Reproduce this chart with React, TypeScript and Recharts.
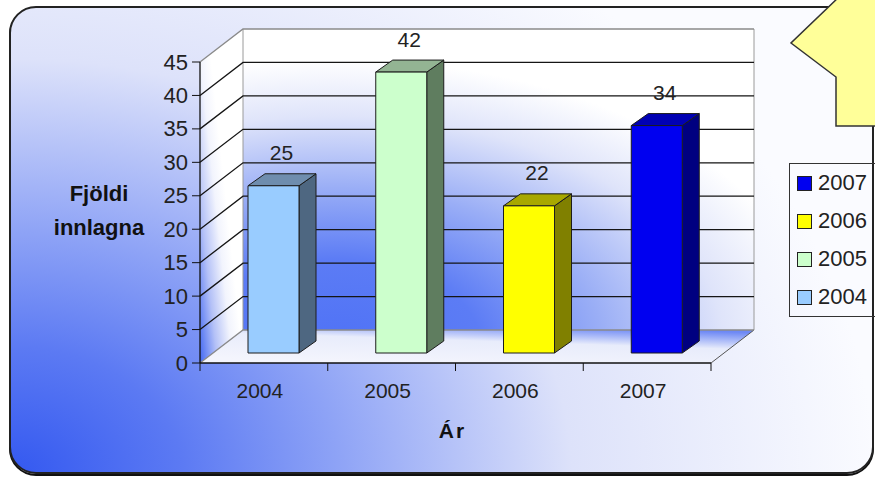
import React from "react";
import { BarChart, Bar, XAxis, YAxis, ReferenceArea, ReferenceLine, LabelList, Label } from "recharts";

const years = ["2004", "2005", "2006", "2007"];
const admissions = [25, 42, 22, 34];
const yTicks = [0, 5, 10, 15, 20, 25, 30, 35, 40, 45];
const legendYears = ["2007", "2006", "2005", "2004"];

const frontColors = ["#99CCFF", "#CCFFCC", "#FFFF00", "#0000F0"];
const sideColors = ["#4E6781", "#5F7D5F", "#808000", "#000080"];
const topColors = ["#6F8DAE", "#93B493", "#A8A800", "#0000B4"];

const data = years.map((year, i) => ({ year, value: admissions[i] }));

const FONT = '"Liberation Sans", Arial, sans-serif';
const DX = 43; // depth of the box
const DY = 33;
const BAR_OFF = 10; // bars sit a bit inside the box
const BAR_DX = 17;
const BAR_DY = 12;

function Walls(props: any) {
  const { x, y, width, height } = props;
  const b = y + height;
  const r = x + width;
  return (
    <g>
      <defs>
        <radialGradient id="backWall" cx="0.18" cy="1.05" r="0.95">
          <stop offset="0" stopColor="#4f72f6" />
          <stop offset="0.3" stopColor="#5c7cf5" />
          <stop offset="0.55" stopColor="#9aaef6" />
          <stop offset="0.8" stopColor="#dfe4fa" />
          <stop offset="1" stopColor="#ffffff" />
        </radialGradient>
        <linearGradient id="sideWall" x1="0" y1="1" x2="0.6" y2="0.5">
          <stop offset="0" stopColor="#4268f3" />
          <stop offset="0.4" stopColor="#b4c1f7" />
          <stop offset="0.75" stopColor="#f2f4fd" />
          <stop offset="1" stopColor="#ffffff" />
        </linearGradient>
        <linearGradient id="floor" x1="0.3" y1="1" x2="0.85" y2="0">
          <stop offset="0" stopColor="#f4f5fd" />
          <stop offset="0.6" stopColor="#e8ecfb" />
          <stop offset="1" stopColor="#6d88f5" />
        </linearGradient>
      </defs>
      <polygon points={`${x},${y} ${x + DX},${y - DY} ${x + DX},${b - DY} ${x},${b}`} fill="url(#sideWall)" />
      <rect x={x + DX} y={y - DY} width={width} height={height} fill="url(#backWall)" />
      <polygon points={`${x},${b} ${r},${b} ${r + DX},${b - DY} ${x + DX},${b - DY}`} fill="url(#floor)" />
      <line x1={x + DX} y1={y - DY} x2={x + DX} y2={b - DY} stroke="#9a9a9a" />
      <line x1={r + DX} y1={y - DY} x2={r + DX} y2={b - DY} stroke="#9a9a9a" />
      <line x1={r} y1={b} x2={r + DX} y2={b - DY} stroke="#555" />
    </g>
  );
}

function WallGrid(props: any) {
  const { x1, y1, x2, stroke } = props;
  return (
    <polyline
      points={`${x1},${y1} ${x1 + DX},${y1 - DY} ${x2 + DX},${y1 - DY}`}
      fill="none"
      stroke={stroke}
      strokeWidth={1.3}
    />
  );
}

function Box(props: any) {
  const { x, y, width, height, index } = props;
  if (height == null || width == null) return null;
  const fx = x + BAR_OFF;
  const fy = y - BAR_OFF;
  const r = fx + width;
  const b = fy + height;
  return (
    <g stroke="#1c1c1c" strokeWidth={1} strokeLinejoin="round">
      <polygon
        points={`${r},${fy} ${r + BAR_DX},${fy - BAR_DY} ${r + BAR_DX},${b - BAR_DY} ${r},${b}`}
        fill={sideColors[index]}
      />
      <polygon
        points={`${fx},${fy} ${fx + BAR_DX},${fy - BAR_DY} ${r + BAR_DX},${fy - BAR_DY} ${r},${fy}`}
        fill={topColors[index]}
      />
      <rect x={fx} y={fy} width={width} height={height} fill={frontColors[index]} />
    </g>
  );
}

function ValueLabel(props: any) {
  const vb = props.viewBox || props;
  const { x, y, width } = vb;
  return (
    <text
      x={x + width / 2 + BAR_OFF + 8}
      y={y - BAR_OFF - 33}
      textAnchor="middle"
      dominantBaseline="central"
      fontSize={21}
      fill="#222"
      fontFamily={FONT}
    >
      {props.value}
    </text>
  );
}

function YTick(props: any) {
  const { x, y, payload } = props;
  return (
    <text x={x} y={y} textAnchor="end" dominantBaseline="central" fontSize={22} fill="#222" fontFamily={FONT}>
      {payload.value}
    </text>
  );
}

function XTick(props: any) {
  const { x, y, payload, index } = props;
  const half = payload.offset ? payload.offset : 63.9;
  const last = index === years.length - 1;
  return (
    <g>
      <line x1={x - half} y1={y} x2={x - half} y2={y + 8} stroke="#111" />
      {last && <line x1={x + half} y1={y} x2={x + half} y2={y + 8} stroke="#111" />}
      <text x={x - 4} y={y + 27} textAnchor="middle" dominantBaseline="central" fontSize={21} fill="#222" fontFamily={FONT}>
        {payload.value}
      </text>
    </g>
  );
}

export default function App() {
  return (
    <div style={{ position: "absolute", left: 0, top: 0, width: 875, height: 479, overflow: "hidden", background: "#fff" }}>
      <svg width={875} height={479} style={{ position: "absolute", left: 0, top: 0 }}>
        <defs>
          <radialGradient
            id="frameBg"
            gradientUnits="userSpaceOnUse"
            cx="10"
            cy="475"
            r="640"
            gradientTransform="translate(10,475) scale(1.35,1) translate(-10,-475)"
          >
            <stop offset="0" stopColor="#3358f0" />
            <stop offset="0.2" stopColor="#5c7af3" />
            <stop offset="0.38" stopColor="#8ea3f6" />
            <stop offset="0.65" stopColor="#dde2fa" />
            <stop offset="1" stopColor="#fafbff" />
          </radialGradient>
        </defs>
        <rect x={10} y={9} width={863} height={466} rx={26} fill="none" stroke="#111" strokeWidth={2} />
        <rect x={10} y={7} width={863} height={466} rx={26} fill="url(#frameBg)" stroke="#222" strokeWidth={2} />
      </svg>

      <div style={{ position: "absolute", left: 0, top: 0 }}>
        <BarChart width={875} height={479} data={data} margin={{ top: 62, right: 164, bottom: 36, left: 70 }}>
          <ReferenceArea y1={0} y2={45} shape={Walls} ifOverflow="visible" zIndex={-200} />
          {yTicks.map((v) => (
            <ReferenceLine
              key={v}
              y={v}
              shape={WallGrid}
              stroke={v === 0 || v === 45 ? "#8a8a8a" : "#151515"}
              ifOverflow="visible"
              zIndex={-150}
            />
          ))}
          <XAxis
            dataKey="year"
            height={80}
            tickLine={false}
            tickSize={0}
            tickMargin={0}
            interval={0}
            tick={XTick}
            axisLine={{ stroke: "#111", strokeWidth: 1.3 }}
          >
            <Label
              content={(p: any) => {
                const vb = p.viewBox;
                return (
                  <text
                    x={vb.x + vb.width / 2 - 3}
                    y={vb.y + 67}
                    textAnchor="middle"
                    dominantBaseline="central"
                    fontSize={21}
                    fontWeight="bold"
                    fill="#111"
                    fontFamily={FONT}
                    letterSpacing={2}
                  >
                    Ár
                  </text>
                );
              }}
            />
          </XAxis>
          <YAxis
            type="number"
            domain={[0, 45]}
            ticks={yTicks}
            interval={0}
            width={130}
            tickSize={8}
            tickMargin={4}
            tick={YTick}
            axisLine={{ stroke: "#111", strokeWidth: 1.3 }}
            tickLine={{ stroke: "#111" }}
          >
            <Label
              content={(p: any) => {
                const vb = p.viewBox;
                const cx = vb.x + 29;
                const cy = vb.y + vb.height / 2 - 2.5;
                return (
                  <text textAnchor="middle" dominantBaseline="central" fontSize={22} fontWeight="bold" fill="#111" fontFamily={FONT}>
                    <tspan x={cx} y={cy - 17}>Fjöldi</tspan>
                    <tspan x={cx} y={cy + 17}>innlagna</tspan>
                  </text>
                );
              }}
            />
          </YAxis>
          <Bar dataKey="value" barSize={51} shape={Box} isAnimationActive={false}>
            <LabelList dataKey="value" content={ValueLabel} />
          </Bar>
        </BarChart>
      </div>

      <div
        style={{
          position: "absolute",
          left: 789,
          top: 163,
          width: 100,
          height: 154,
          border: "1.5px solid #333",
          boxSizing: "border-box",
          fontFamily: FONT,
        }}
      >
        {legendYears.map((yr, i) => (
          <div
            key={yr}
            style={{ position: "absolute", left: 7, top: 7 + i * 38, height: 24, display: "flex", alignItems: "center" }}
          >
            <span
              style={{
                display: "inline-block",
                width: 13,
                height: 13,
                background: frontColors[years.indexOf(yr)],
                border: "1px solid #222",
              }}
            />
            <span style={{ marginLeft: 6, fontSize: 22, color: "#222", lineHeight: "24px" }}>{yr}</span>
          </div>
        ))}
      </div>

      <svg width={875} height={479} style={{ position: "absolute", left: 0, top: 0, pointerEvents: "none" }}>
        <polygon
          points="841,-5 791,43 836,77 836,126 880,126 880,-5"
          fill="#FFFF99"
          stroke="#333"
          strokeWidth={1.5}
        />
      </svg>
    </div>
  );
}
